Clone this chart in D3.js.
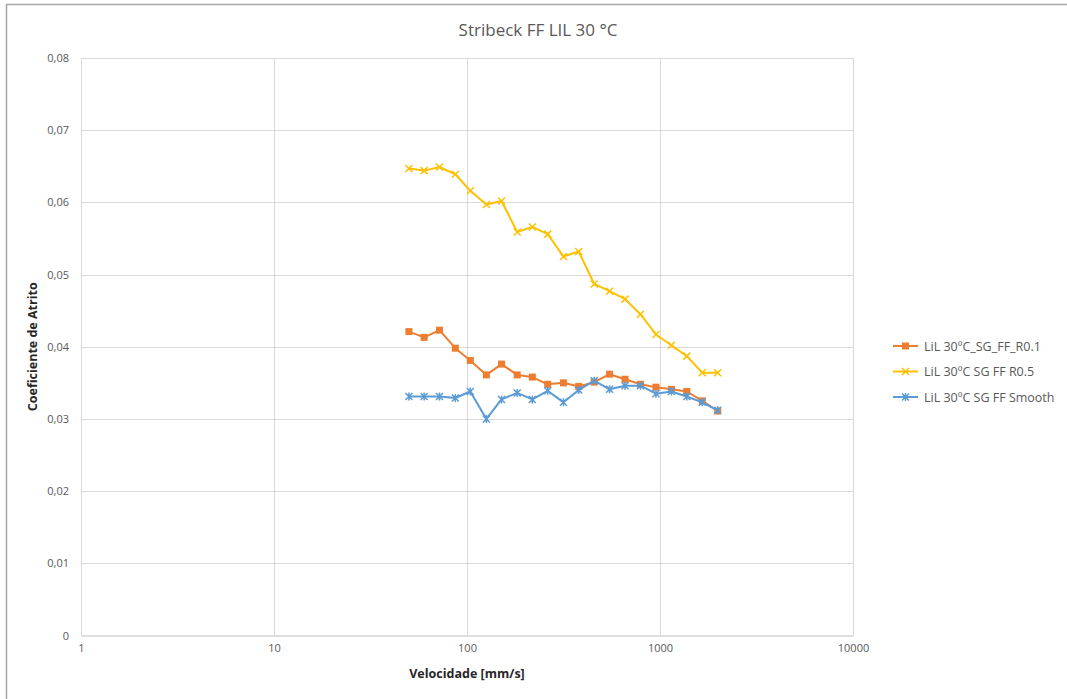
<!DOCTYPE html>
<html>
<head>
<meta charset="utf-8">
<script src="https://cdn.jsdelivr.net/npm/d3@7"></script>
<style>
  html, body { margin: 0; padding: 0; background: #fff; }
  svg { display: block; font-family: "Open Sans", "Liberation Sans", sans-serif; }
</style>
</head>
<body>
<svg id="chart" width="1067" height="699"></svg>
<script>
// Sliding speed [mm/s] for each measurement step
const velocities = [50, 60, 72, 87, 104, 126, 151, 182, 218, 262, 316, 379, 456, 548, 659, 792, 953, 1145, 1377, 1656, 1991];

// Friction coefficient per surface
const r01 = [0.0421, 0.0413, 0.0423, 0.0398, 0.0381, 0.0361, 0.0376, 0.0361, 0.0358, 0.0348, 0.0350, 0.0345,
             0.0351, 0.0362, 0.0355, 0.0348, 0.0344, 0.0341, 0.0338, 0.0325, 0.0311];
const r05 = [0.0647, 0.0644, 0.0649, 0.0639, 0.0616, 0.0597, 0.0602, 0.0559, 0.0566, 0.0556, 0.0525, 0.0532,
             0.0487, 0.0477, 0.0466, 0.0445, 0.0417, 0.0402, 0.0387, 0.0364, 0.0364];
const smooth = [0.0331, 0.0331, 0.0331, 0.0329, 0.0338, 0.0300, 0.0327, 0.0336, 0.0327, 0.0339, 0.0323, 0.0340,
                0.0353, 0.0341, 0.0346, 0.0346, 0.0335, 0.0338, 0.0331, 0.0323, 0.0312];

const seriesNames = ["LiL 30ºC_SG_FF_R0.1", "LiL 30ºC SG FF R0.5", "LiL 30ºC SG FF Smooth"];
const xTicks = [1, 10, 100, 1000, 10000];
const yTicks = [0, 0.01, 0.02, 0.03, 0.04, 0.05, 0.06, 0.07, 0.08];

const series = [
  { name: seriesNames[0], values: r01, color: "#ED7D31", marker: "square" },
  { name: seriesNames[1], values: r05, color: "#FFC000", marker: "x" },
  { name: seriesNames[2], values: smooth, color: "#5B9BD5", marker: "star" }
];

const svg = d3.select("#chart");
const plot = { left: 81, right: 853, top: 58, bottom: 635.5 };

const x = d3.scaleLog().domain([1, 10000]).range([plot.left, plot.right]);
const y = d3.scaleLinear().domain([0, 0.08]).range([plot.bottom, plot.top]);

// outer chart frame
svg.append("rect")
  .attr("x", 6.5).attr("y", 4.5).attr("width", 1100).attr("height", 720)
  .attr("fill", "none").attr("stroke", "#a6a6a6").attr("stroke-width", 1.5);

// title
svg.append("text")
  .attr("x", 538).attr("y", 36)
  .attr("text-anchor", "middle")
  .attr("fill", "#595959")
  .attr("font-size", 17)
  .text("Stribeck FF LIL 30 °C");

// gridlines
const grid = svg.append("g");
grid.selectAll(".hg").data(yTicks.filter(d => d > 0)).join("line")
  .attr("x1", plot.left).attr("x2", plot.right)
  .attr("y1", d => Math.round(y(d)) + 0.5).attr("y2", d => Math.round(y(d)) + 0.5)
  .attr("stroke", "#d9d9d9").attr("stroke-width", 1);
grid.selectAll(".vg").data(xTicks).join("line")
  .attr("x1", d => Math.round(x(d)) + 0.5).attr("x2", d => Math.round(x(d)) + 0.5)
  .attr("y1", plot.top).attr("y2", plot.bottom)
  .attr("stroke", "#d9d9d9").attr("stroke-width", 1);

// axes
const fmtY = d => d === 0 ? "0" : d3.format(".2f")(d).replace(".", ",");
const xAxis = svg.append("g")
  .attr("transform", `translate(0,${plot.bottom})`)
  .call(d3.axisBottom(x).tickValues(xTicks).tickFormat(d3.format("d")).tickSize(0).tickPadding(9));
const yAxis = svg.append("g")
  .attr("transform", `translate(${plot.left},0)`)
  .call(d3.axisLeft(y).tickValues(yTicks).tickFormat(fmtY).tickSize(0).tickPadding(12));
[xAxis, yAxis].forEach(a => {
  a.selectAll("text").attr("fill", "#595959").attr("font-size", 11)
    .attr("font-family", "'Open Sans', 'Liberation Sans', sans-serif");
});
xAxis.select(".domain").attr("stroke", "#bfbfbf").attr("stroke-width", 1);
yAxis.select(".domain").remove();

// axis titles
svg.append("text")
  .attr("x", (plot.left + plot.right) / 2).attr("y", 678)
  .attr("text-anchor", "middle").attr("font-weight", "bold")
  .attr("font-size", 12.5).attr("fill", "#262626")
  .text("Velocidade [mm/s]");
svg.append("text")
  .attr("transform", `translate(37,${(plot.top + plot.bottom) / 2}) rotate(-90)`)
  .attr("text-anchor", "middle").attr("font-weight", "bold")
  .attr("font-size", 12.5).attr("fill", "#262626")
  .text("Coeficiente de Atrito");

// marker drawing
function drawMarker(g, type, color) {
  if (type === "square") {
    g.append("rect").attr("x", -3.5).attr("y", -3.5).attr("width", 7).attr("height", 7)
      .attr("fill", color);
  } else if (type === "x") {
    g.append("path").attr("d", "M-3.5,-3.5L3.5,3.5M-3.5,3.5L3.5,-3.5")
      .attr("stroke", color).attr("stroke-width", 1.5).attr("fill", "none");
  } else {
    g.append("path").attr("d", "M-3.5,-3.5L3.5,3.5M-3.5,3.5L3.5,-3.5M0,-4L0,4")
      .attr("stroke", color).attr("stroke-width", 1.5).attr("fill", "none");
  }
}

const line = d3.line().x(d => x(d[0])).y(d => y(d[1]));

series.forEach(s => {
  const pts = velocities.map((v, i) => [v, s.values[i]]);
  const g = svg.append("g");
  g.append("path").datum(pts).attr("d", line)
    .attr("fill", "none").attr("stroke", s.color).attr("stroke-width", 2)
    .attr("stroke-linejoin", "round").attr("stroke-linecap", "round");
  g.selectAll(".m").data(pts).join("g")
    .attr("transform", d => `translate(${x(d[0])},${y(d[1])})`)
    .each(function () { drawMarker(d3.select(this), s.marker, s.color); });
});

// legend
const legend = svg.append("g").attr("transform", "translate(893,346)");
series.forEach((s, i) => {
  const g = legend.append("g").attr("transform", `translate(0,${i * 25.5})`);
  g.append("line").attr("x1", 0).attr("x2", 25).attr("y1", 0).attr("y2", 0)
    .attr("stroke", s.color).attr("stroke-width", 2);
  drawMarker(g.append("g").attr("transform", "translate(12.5,0)"), s.marker, s.color);
  g.append("text").attr("x", 31).attr("y", 4.5)
    .attr("font-size", 12.5).attr("fill", "#595959")
    .text(s.name);
});
</script>
</body>
</html>
